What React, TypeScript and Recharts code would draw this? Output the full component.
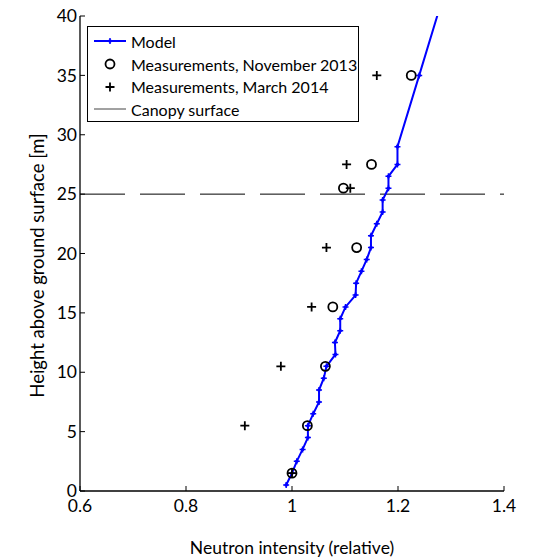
import React from "react";
import {
  ScatterChart,
  Scatter,
  XAxis,
  YAxis,
  ReferenceLine,
  Label,
} from "recharts";

// model profile (intensity vs height)
const modelHeight = [0.5, 1.5, 2.5, 3.5, 4.5, 5.5, 6.5, 7.5, 8.5, 9.5, 10.5, 11.5, 12.5, 13.5, 14.5, 15.5, 16.5, 17.5, 18.5, 19.5, 20.5, 21.5, 22.5, 23.5, 24.5, 25.5, 26.5, 27.5, 29, 35, 45];
const modelIntensity = [0.989, 1.0, 1.009, 1.02, 1.03, 1.03, 1.04, 1.051, 1.051, 1.06, 1.065, 1.082, 1.081, 1.091, 1.091, 1.101, 1.12, 1.121, 1.131, 1.141, 1.149, 1.149, 1.16, 1.171, 1.171, 1.182, 1.182, 1.199, 1.199, 1.24, 1.308];

const novHeight = [1.5, 5.5, 10.5, 15.5, 20.5, 25.5, 27.5, 35];
const novIntensity = [1.0, 1.029, 1.063, 1.077, 1.122, 1.097, 1.15, 1.225];

const marHeight = [1.5, 5.5, 10.5, 15.5, 20.5, 25.5, 27.5, 35];
const marIntensity = [1.0, 0.911, 0.979, 1.037, 1.065, 1.11, 1.103, 1.16];

const xTicks = [0.6, 0.8, 1, 1.2, 1.4];
const yTicks = [0, 5, 10, 15, 20, 25, 30, 35, 40];
const canopyHeight = 25;

const model = modelHeight.map((h, i) => ({ x: modelIntensity[i], y: h }));
const nov = novHeight.map((h, i) => ({ x: novIntensity[i], y: h }));
const mar = marHeight.map((h, i) => ({ x: marIntensity[i], y: h }));

const FONT = "Lato, 'Open Sans', sans-serif";
const BLUE = "#0000ff";

const ModelDot = (p: any) => {
  if (p.cx == null || p.cy == null) return <g />;
  const { cx, cy } = p;
  return (
    <g>
      <circle cx={cx} cy={cy} r={1.8} fill={BLUE} />
      <path d={`M${cx - 3},${cy}H${cx + 3}M${cx},${cy - 3}V${cy + 3}`} stroke={BLUE} strokeWidth={1.5} />
    </g>
  );
};

const CircleDot = (p: any) => (
  <circle cx={p.cx} cy={p.cy} r={4.5} fill="none" stroke="#000" strokeWidth={1.8} />
);

const PlusDot = (p: any) => (
  <path
    d={`M${p.cx - 4.5},${p.cy}H${p.cx + 4.5}M${p.cx},${p.cy - 4.5}V${p.cy + 4.5}`}
    stroke="#000"
    strokeWidth={1.8}
  />
);

const rows = [
  { label: "Model", kind: "model" },
  { label: "Measurements, November 2013", kind: "circle" },
  { label: "Measurements, March 2014", kind: "plus" },
  { label: "Canopy surface", kind: "canopy" },
];

function LegendBox() {
  return (
    <div
      style={{
        position: "absolute",
        left: 87,
        top: 26,
        width: 272,
        height: 96,
        border: "1px solid #000",
        background: "#fff",
        fontFamily: FONT,
        fontSize: 16,
        color: "#000",
        paddingTop: 3,
        boxSizing: "border-box",
      }}
    >
      {rows.map((r) => (
        <div key={r.label} style={{ display: "flex", alignItems: "center", height: 22.7 }}>
          <svg width={38} height={14} style={{ marginLeft: 5, flex: "none" }}>
            {r.kind === "model" && (
              <>
                <line x1={1} y1={7} x2={33} y2={7} stroke={BLUE} strokeWidth={2} />
                <ModelDot cx={17} cy={7} />
              </>
            )}
            {r.kind === "circle" && <CircleDot cx={17} cy={7} />}
            {r.kind === "plus" && <PlusDot cx={17} cy={7} />}
            {r.kind === "canopy" && <line x1={1} y1={7} x2={33} y2={7} stroke="#444" strokeWidth={1} />}
          </svg>
          <span style={{ whiteSpace: "nowrap" }}>{r.label}</span>
        </div>
      ))}
    </div>
  );
}

const tickStyle = { fill: "#000", fontSize: 17.5, fontFamily: FONT };

export default function App() {
  return (
    <div style={{ position: "relative", width: 533, height: 557, background: "#fff" }}>
      <style>{"body{margin:0}"}</style>
      <ScatterChart width={533} height={557} margin={{ top: 16, right: 29, bottom: 0, left: 0 }}>
        <XAxis
          xAxisId="b"
          type="number"
          dataKey="x"
          domain={[0.6, 1.4]}
          ticks={xTicks}
          tickFormatter={(v: number) => String(v)}
          height={66}
          tick={tickStyle}
          tickSize={-5}
          tickMargin={14}
          stroke="#000"
          axisLine={{ stroke: "#000", strokeWidth: 1.3 }}
        >
          <Label
            value="Neutron intensity (relative)"
            position="center"
            dy={24}
            style={{ fill: "#000", fontSize: 17.5, fontFamily: FONT }}
          />
        </XAxis>
        <XAxis
          xAxisId="t"
          orientation="top"
          type="number"
          domain={[0.6, 1.4]}
          ticks={xTicks}
          height={0}
          tickFormatter={() => ""}
          tickSize={-5}
          stroke="#000"
          axisLine={{ stroke: "#000", strokeWidth: 1.3 }}
        />
        <YAxis
          yAxisId="l"
          type="number"
          dataKey="y"
          domain={[0, 40]}
          allowDataOverflow
          ticks={yTicks}
          width={80}
          tick={tickStyle}
          tickSize={-5}
          tickMargin={8}
          stroke="#000"
          axisLine={{ stroke: "#000", strokeWidth: 1.3 }}
        >
          <Label
            value="Height above ground surface [m]"
            angle={-90}
            position="center"
            dx={-3}
            dy={12}
            style={{ fill: "#000", fontSize: 18.5, fontFamily: FONT, textAnchor: "middle" }}
          />
        </YAxis>
        <YAxis
          yAxisId="r"
          orientation="right"
          type="number"
          domain={[0, 40]}
          ticks={yTicks}
          width={0}
          tickFormatter={() => ""}
          tickSize={-5}
          stroke="#000"
          axisLine={{ stroke: "#000", strokeWidth: 1.3 }}
        />
        <ReferenceLine
          xAxisId="b"
          yAxisId="l"
          y={canopyHeight}
          stroke="#000"
          strokeWidth={1}
          strokeDasharray="45 15"
        />
        <Scatter
          xAxisId="b"
          yAxisId="l"
          data={model}
          line={{ stroke: BLUE, strokeWidth: 2 }}
          shape={ModelDot}
          isAnimationActive={false}
        />
        <Scatter xAxisId="b" yAxisId="l" data={nov} shape={CircleDot} isAnimationActive={false} />
        <Scatter xAxisId="b" yAxisId="l" data={mar} shape={PlusDot} isAnimationActive={false} />
      </ScatterChart>
      <LegendBox />
    </div>
  );
}
